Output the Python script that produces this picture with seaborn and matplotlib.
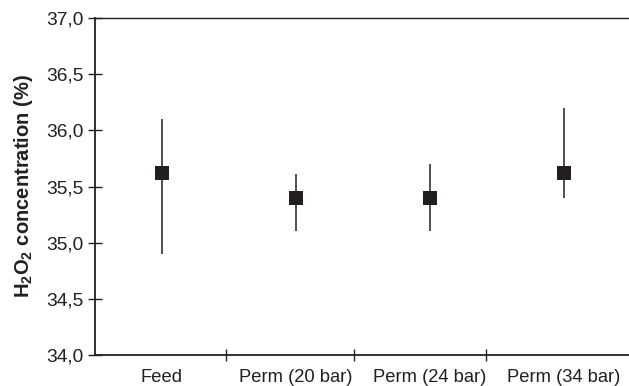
import matplotlib
matplotlib.use("Agg")
import matplotlib.pyplot as plt
import seaborn as sns
import pandas as pd
from matplotlib.ticker import FixedLocator

categories = ["Feed", "Perm (20 bar)", "Perm (24 bar)", "Perm (34 bar)"]
mean_vals = [35.62, 35.40, 35.40, 35.62]
low_vals = [34.90, 35.10, 35.10, 35.40]
high_vals = [36.10, 35.61, 35.70, 36.20]
y_ticks = [34.0, 34.5, 35.0, 35.5, 36.0, 36.5, 37.0]
y_tick_labels = ["34,0", "34,5", "35,0", "35,5", "36,0", "36,5", "37,0"]

df = pd.DataFrame({"cat": categories, "mean": mean_vals,
                   "low": low_vals, "high": high_vals})
df["x"] = range(len(categories))

sns.set_style("white")
plt.rcParams["font.family"] = ["Liberation Sans", "DejaVu Sans"]
plt.rcParams["mathtext.fontset"] = "custom"
plt.rcParams["mathtext.bf"] = "Liberation Sans:bold"
plt.rcParams["mathtext.rm"] = "Liberation Sans"

fig = plt.figure(figsize=(6.29, 3.86), dpi=100)
W, H = 629, 386
ax = fig.add_axes([95 / W, 31 / H, 536 / W, 337 / H])

col = "#231f20"
ax.vlines(df["x"], df["low"], df["high"], color=col, linewidth=1.1, zorder=2)
sns.scatterplot(data=df, x="x", y="mean", marker="s", s=95, color=col,
                edgecolor=col, linewidth=0, ax=ax, zorder=3)

ax.set_xlim(-0.5, 3.5)
ax.set_ylim(34.0, 37.0)
ax.set_yticks(y_ticks)
ax.set_yticklabels(y_tick_labels, fontsize=13.8, color="#231f20")
ax.set_xticks(df["x"])
ax.set_xticklabels(categories, fontsize=13.2, color="#231f20")
ax.xaxis.set_minor_locator(FixedLocator([0.48, 1.43, 2.42]))
ax.tick_params(bottom=True, left=True, which="both")
ax.tick_params(axis="x", which="major", length=0, pad=10)
ax.tick_params(axis="x", which="minor", direction="inout", length=9,
               width=1.0, color=col)
ax.tick_params(axis="y", which="major", direction="inout", length=10,
               width=1.0, color=col, pad=3)
ax.set_xlabel("")
ax.set_ylabel(r"$\mathbf{H_2O_2}$ concentration (%)", fontsize=14.5,
              fontweight="bold", color="#231f20", labelpad=8)

for s in ["left", "bottom", "top"]:
    ax.spines[s].set_visible(True)
    ax.spines[s].set_color(col)
    ax.spines[s].set_linewidth(1.3)
ax.spines["top"].set_linewidth(1.0)
ax.spines["right"].set_visible(False)

fig.savefig("out.png", dpi=100)
